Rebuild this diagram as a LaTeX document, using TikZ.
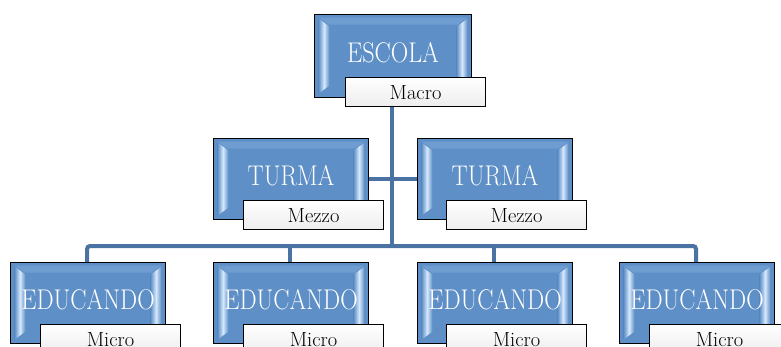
\documentclass[tikz,border=0pt]{standalone}
\usetikzlibrary{calc}
\definecolor{boxblue}{RGB}{94,143,198}
\definecolor{hilite}{RGB}{214,232,252}
\definecolor{toplite}{RGB}{112,158,210}
\definecolor{conncol}{RGB}{74,114,163}
\newcommand{\bigtxt}[1]{\fontsize{28.5}{30}\selectfont\scalebox{0.85}[1]{#1}}
\newcommand{\smalltxt}[1]{\fontsize{20.5}{22}\selectfont #1}
\tikzset{
  bevelbox/.style={draw=black, line width=1.1pt, fill=boxblue, anchor=north west,
    minimum width=155pt, minimum height=81pt, inner sep=0pt, text=white,
    text height=13pt, text depth=0pt,
    path picture={
      \path[top color=toplite, bottom color=boxblue]
        ([xshift=4pt,yshift=-3pt]path picture bounding box.north west) --
        ([xshift=-4pt,yshift=-3pt]path picture bounding box.north east) --
        ([xshift=-14pt,yshift=-10pt]path picture bounding box.north east) --
        ([xshift=14pt,yshift=-10pt]path picture bounding box.north west) -- cycle;
      \path[left color=boxblue, right color=boxblue, middle color=hilite]
        ([xshift=4pt,yshift=-4pt]path picture bounding box.north west) --
        ([xshift=15pt,yshift=-12pt]path picture bounding box.north west) --
        ([xshift=15pt,yshift=12pt]path picture bounding box.south west) --
        ([xshift=4pt,yshift=4pt]path picture bounding box.south west) -- cycle;
      \path[left color=boxblue, right color=boxblue, middle color=hilite]
        ([xshift=-4pt,yshift=-4pt]path picture bounding box.north east) --
        ([xshift=-15pt,yshift=-12pt]path picture bounding box.north east) --
        ([xshift=-15pt,yshift=12pt]path picture bounding box.south east) --
        ([xshift=-4pt,yshift=4pt]path picture bounding box.south east) -- cycle;
    }},
  tagbox/.style={draw=black, line width=1.1pt, top color=white, bottom color=black!7,
    anchor=north west, minimum width=140pt, minimum height=29pt, inner sep=0pt,
    text height=15pt, text depth=0pt},
  conn/.style={draw=conncol, line width=4pt}
}
\begin{document}
\begin{tikzpicture}[x=1pt,y=-1pt]
\useasboundingbox (0,0) rectangle (781,346);
% boxes
\node[bevelbox, minimum width=157pt, minimum height=83pt] (escola) at (314,14) {\bigtxt{ESCOLA}};
\node[tagbox] (macro) at ($(escola.south west)+(31,-21)$) {\smalltxt{Macro}};
\node[bevelbox] (turma1) at (213,138) {\bigtxt{TURMA}};
\node[tagbox] (mezzo1) at ($(turma1.south west)+(30,-20)$) {\smalltxt{Mezzo}};
\node[bevelbox] (turma2) at (417,138) {\bigtxt{TURMA}};
\node[tagbox] (mezzo2) at ($(turma2.south west)+(29,-20)$) {\smalltxt{Mezzo}};
\node[bevelbox] (edu1) at (10,262) {\bigtxt{EDUCANDO}};
\node[tagbox] (micro1) at ($(edu1.south west)+(30,-20)$) {\smalltxt{Micro}};
\node[bevelbox] (edu2) at (213,262) {\bigtxt{EDUCANDO}};
\node[tagbox] (micro2) at ($(edu2.south west)+(30,-20)$) {\smalltxt{Micro}};
\node[bevelbox] (edu3) at (417,262) {\bigtxt{EDUCANDO}};
\node[tagbox] (micro3) at ($(edu3.south west)+(29,-20)$) {\smalltxt{Micro}};
\node[bevelbox] (edu4) at (619,262) {\bigtxt{EDUCANDO}};
\node[tagbox] (micro4) at ($(edu4.south west)+(30,-20)$) {\smalltxt{Micro}};
% connectors
\coordinate (bar) at (392,246);
\draw[conn] (macro.south -| bar) -- (bar);
\draw[conn] (turma1.east) -- (turma2.west);
\draw[conn, rounded corners=3pt] ([xshift=-1pt]edu1.north) |- (bar) -| ([xshift=-1pt]edu4.north);
\draw[conn] ([xshift=-1pt]edu2.north) -- ([xshift=-1pt]edu2.north |- bar);
\draw[conn] ([xshift=-1pt]edu3.north) -- ([xshift=-1pt]edu3.north |- bar);
\end{tikzpicture}
\end{document}
